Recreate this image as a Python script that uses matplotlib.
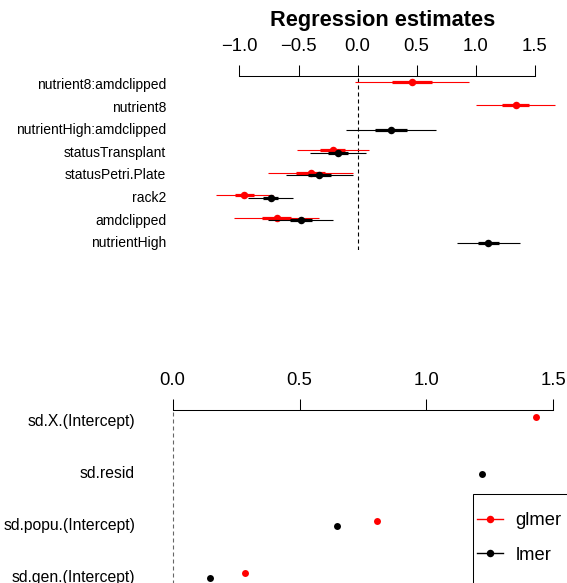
import numpy as np
import matplotlib

matplotlib.use("Agg")
import matplotlib.pyplot as plt
from matplotlib.lines import Line2D
from matplotlib.patches import Rectangle

# --- data ------------------------------------------------------------------
coef_names = [
    "nutrient8:amdclipped",
    "nutrient8",
    "nutrientHigh:amdclipped",
    "statusTransplant",
    "statusPetri.Plate",
    "rack2",
    "amdclipped",
    "nutrientHigh",
]
glmer_est = [0.463, 1.339, np.nan, -0.209, -0.398, -0.958, -0.684, np.nan]
glmer_se = [0.247, 0.171, np.nan, 0.156, 0.182, 0.125, 0.184, np.nan]
lmer_est = [np.nan, np.nan, 0.284, -0.166, -0.325, -0.737, -0.480, 1.110]
lmer_se = [np.nan, np.nan, 0.196, 0.121, 0.145, 0.099, 0.141, 0.138]
coef_ticks = [-1.0, -0.5, 0.0, 0.5, 1.0, 1.5]

sd_names = [
    "sd.X.(Intercept)",
    "sd.resid",
    "sd.popu.(Intercept)",
    "sd.gen.(Intercept)",
]
glmer_sd = [1.432, np.nan, 0.807, 0.286]
lmer_sd = [np.nan, 1.220, 0.649, 0.147]
sd_ticks = [0.0, 0.5, 1.0, 1.5]

model_names = ["glmer", "lmer"]

W, H = 567, 583
RED = "#FF0000"
BLACK = "#000000"

plt.rcParams.update(
    {
        "font.family": ["Liberation Sans", "DejaVu Sans"],
        "axes.linewidth": 0.75,
    }
)


def px_axes(fig, left, top, right, bottom):
    # axes placed in pixel coordinates measured from the top-left corner
    return fig.add_axes([left / W, 1 - bottom / H, (right - left) / W, (bottom - top) / H])


def fmt(v):
    return f"{v:.1f}".replace("-", "\u2212")


def style_axis(ax, ticks, label_pad, names, name_size, name_shift):
    ax.xaxis.tick_top()
    for side in ("left", "right", "bottom"):
        ax.spines[side].set_visible(False)
    ax.spines["top"].set_bounds(ticks[0], ticks[-1])
    ax.set_xticks(ticks)
    ax.set_xticklabels([fmt(t) for t in ticks])
    ax.tick_params(axis="x", direction="out", length=7.9, width=0.75,
                   labelsize=13.3, pad=7.0)
    ax.set_yticks(np.arange(len(names)) + name_shift)
    ax.set_yticklabels(names, fontsize=name_size)
    ax.tick_params(axis="y", length=0, pad=label_pad)


def draw_coefs(ax, est, se, offset, color):
    est = np.asarray(est, dtype=float)
    se = np.asarray(se, dtype=float)
    y = np.arange(est.size) + offset
    ok = np.isfinite(est)
    ax.hlines(y[ok], est[ok] - 1.96 * se[ok], est[ok] + 1.96 * se[ok],
              color=color, lw=0.8, clip_on=False)
    ax.hlines(y[ok], est[ok] - 0.674 * se[ok], est[ok] + 0.674 * se[ok],
              color=color, lw=2.3, clip_on=False)
    ax.plot(est[ok], y[ok], "o", color=color, ms=5.4, mec="none", clip_on=False)


def draw_points(ax, vals, offset, color):
    vals = np.asarray(vals, dtype=float)
    y = np.arange(vals.size) + offset
    ok = np.isfinite(vals)
    ax.plot(vals[ok], y[ok], "o", color=color, ms=5.0, mec="none", clip_on=False)


def main():
    fig = plt.figure(figsize=(W / 100, H / 100), dpi=100)

    # top panel: fixed effects with 50% / 95% intervals
    ax1 = px_axes(fig, 215.9, 76, 558.1, 250)
    ax1.set_xlim(-1.2, 1.7)
    ax1.set_ylim(7.31, -0.39)
    ax1.axvline(0, color=BLACK, lw=0.8, ls=(0, (3.6, 2.7)))
    draw_coefs(ax1, glmer_est, glmer_se, -0.11, RED)
    draw_coefs(ax1, lmer_est, lmer_se, 0.0, BLACK)
    style_axis(ax1, coef_ticks, 35.9, coef_names, 10, -0.06)
    fig.text(383 / W, 1 - 20.5 / H, "Regression estimates", ha="center",
             va="center", fontsize=15.7, fontweight="bold")

    # bottom panel: random effect standard deviations
    ax2 = px_axes(fig, 160.0, 410, 578.6, 620)
    ax2.set_xlim(-0.05, 1.6)
    ax2.set_ylim(3.8, -0.226)
    ax2.axvline(0, color="#666666", lw=0.8, ls=(0, (3.6, 2.7)))
    draw_points(ax2, glmer_sd, -0.096, RED)
    draw_points(ax2, lmer_sd, 0.0, BLACK)
    style_axis(ax2, sd_ticks, 18, sd_names, 11.3, -0.04)

    # legend box runs off the bottom-right edge in the reference
    fig.add_artist(Rectangle((472.7 / W, 1 - 700 / H), 200 / W, (700 - 494.3) / H,
                             fill=False, lw=0.75, ec=BLACK,
                             transform=fig.transFigure))
    handles = [
        Line2D([], [], color=RED, lw=1, marker="o", ms=5.4, mec="none"),
        Line2D([], [], color=BLACK, lw=1, marker="o", ms=5.4, mec="none"),
    ]
    fig.legend(handles, model_names, loc="center left",
               bbox_to_anchor=(476.7 / W, 1 - 538 / H), frameon=False,
               borderpad=0, borderaxespad=0, handlelength=1.42,
               handletextpad=0.71, labelspacing=0.97, fontsize=13.2)

    fig.savefig("out.png", dpi=100)
    plt.close(fig)


if __name__ == "__main__":
    main()
